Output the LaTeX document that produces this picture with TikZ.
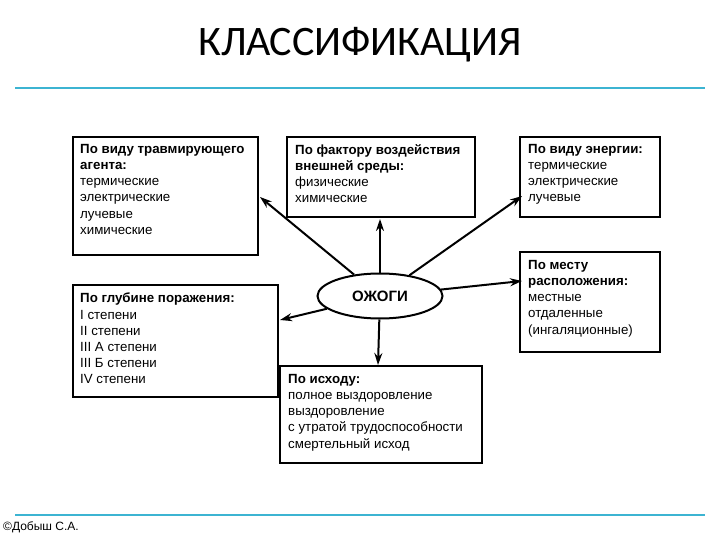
\documentclass[tikz,border=0pt]{standalone}
\usepackage{fontspec}
\setmainfont{Liberation Sans}
\newfontfamily\titlefont{Carlito}
\usetikzlibrary{shapes.geometric,arrows.meta}
\definecolor{cy}{RGB}{60,180,210}
\begin{document}
\begin{tikzpicture}[x=1pt,y=-1pt,
 txt/.style={anchor=north west,align=left,font=\fontsize{13.3}{16.2}\selectfont,inner sep=0pt},
 arr/.style={-{Stealth[length=12pt,width=8pt]},line width=2pt}]
\useasboundingbox (0,0) rectangle (720,540);
\node[font=\titlefont\fontsize{42}{46}\selectfont] (t) at (360,45) {КЛАССИФИКАЦИЯ};
\draw[cy,line width=1.5pt] (15,88) coordinate (l1) -- (705,88) coordinate (l2);
\draw[cy,line width=1.5pt] (15,515) coordinate (l3) -- (705,515) coordinate (l4);
\node[anchor=west,font=\fontsize{12}{14}\selectfont,inner sep=0pt] (c) at (3,527) {©Добыш С.А.};
\draw[line width=2pt] (73,137) rectangle (258,255);
\node[txt] (b1) at (80,144) {\textbf{По виду травмирующего}\\\textbf{агента:}\\термические\\электрические\\лучевые\\химические};
\draw[line width=2pt] (287,137) rectangle (475,217);
\node[txt] (b2) at (295,144) {\textbf{По фактору воздействия}\\\textbf{внешней среды:}\\физические\\химические};
\draw[line width=2pt] (520,137) rectangle (660,217);
\node[txt] (b3) at (528,144) {\textbf{По виду энергии:}\\термические\\электрические\\лучевые};
\draw[line width=2pt] (520,252) rectangle (660,352);
\node[txt] (b4) at (528,260) {\textbf{По месту}\\\textbf{расположения:}\\местные\\отдаленные\\(ингаляционные)};
\draw[line width=2pt] (73,285) rectangle (278,397);
\node[txt] (b5) at (80,293) {\textbf{По глубине поражения:}\\I степени\\II степени\\III А степени\\III Б степени\\IV степени};
\draw[line width=2pt] (280,366) rectangle (482,463);
\node[txt] (b6) at (288,374) {\textbf{По исходу:}\\полное выздоровление\\выздоровление\\с утратой трудоспособности\\смертельный исход};
\node[ellipse,draw,line width=2pt,minimum width=125pt,minimum height=45pt,font=\bfseries\fontsize{15}{17}\selectfont] (e) at (380,296) {ОЖОГИ};
\coordinate (a1) at (260,197);
\coordinate (a2) at (380,219);
\coordinate (a3) at (522,196);
\coordinate (a4) at (522,281);
\coordinate (a5) at (280,320);
\coordinate (a6) at (378,365);
\draw[arr] (e) -- (a1);
\draw[arr] (e) -- (a2);
\draw[arr] (e) -- (a3);
\draw[arr] (e) -- (a4);
\draw[arr] (e) -- (a5);
\draw[arr] (e) -- (a6);
\end{tikzpicture}
\end{document}
